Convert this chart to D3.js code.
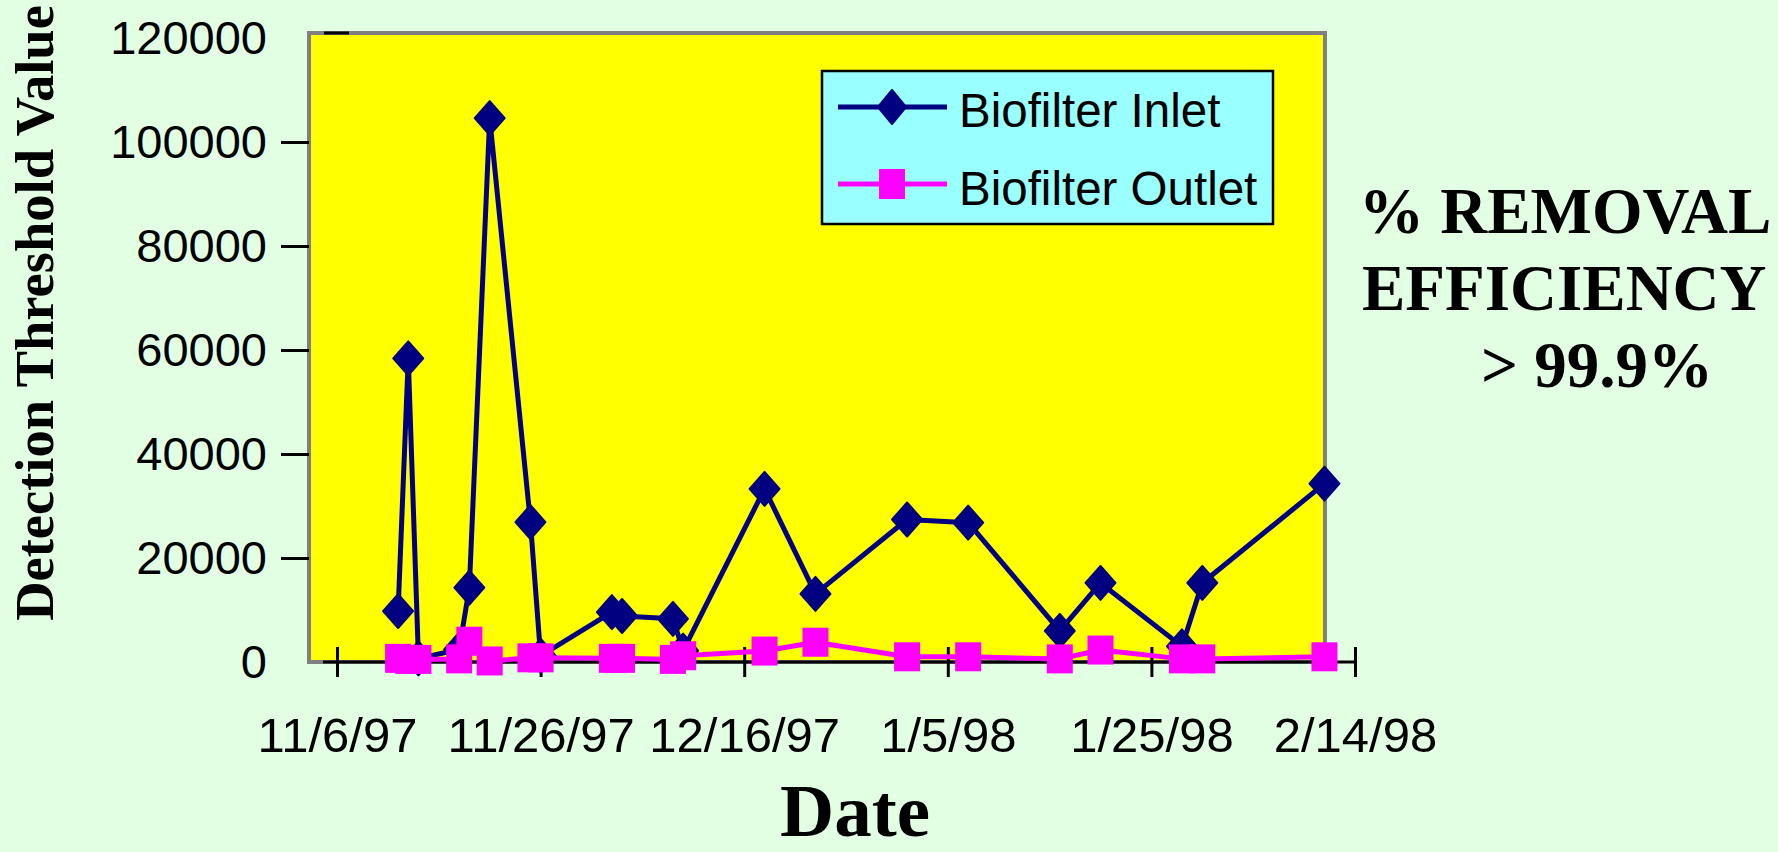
<!DOCTYPE html>
<html>
<head>
<meta charset="utf-8">
<script src="https://cdn.jsdelivr.net/npm/d3@7"></script>
<style>
  html, body { margin: 0; padding: 0; background: #e3ffe3; }
  svg { display: block; }
</style>
</head>
<body>
<div id="content"></div>
<script>
var dates = ['1997-11-12','1997-11-13','1997-11-14','1997-11-18','1997-11-19','1997-11-21',
	'1997-11-25','1997-11-26','1997-12-03','1997-12-04','1997-12-09','1997-12-10',
	'1997-12-18','1997-12-23','1998-01-01','1998-01-07','1998-01-16','1998-01-20',
	'1998-01-28','1998-01-30','1998-02-11'];
var inlet = [9800, 58400, 700, 2400, 14300, 104600, 26900, 1200, 9600, 8850, 8300, 2200,
	33300, 13100, 27400, 26800, 6000, 15200, 3000, 15200, 34300];
var outlet = [700, 500, 500, 600, 4000, 200, 800, 800, 700, 700, 500, 1200,
	2100, 3800, 1000, 1000, 600, 2300, 600, 600, 1000];
var yTicks = [0, 20000, 40000, 60000, 80000, 100000, 120000];
var xTicks = ['1997-11-06','1997-11-26','1997-12-16','1998-01-05','1998-01-25','1998-02-14'];
var seriesNames = ['Biofilter Inlet', 'Biofilter Outlet'];
var removalText = ['% REMOVAL', 'EFFICIENCY', '> 99.9%'];

var parse = d3.utcParse('%Y-%m-%d');
var fmt = d3.utcFormat('%-m/%-d/%y');

var width = 1778, height = 852;
var plot = { left: 309, right: 1325, top: 33, bottom: 662 };

var svg = d3.select('#content').append('svg')
	.attr('width', width).attr('height', height);

svg.append('rect').attr('width', width).attr('height', height).attr('fill', '#e3ffe3');

var x = d3.scaleUtc()
	.domain([parse(xTicks[0]), parse(xTicks[xTicks.length-1])])
	.range([337, 1355]);
var y = d3.scaleLinear().domain([0, 120000]).range([662, 38]);

// plot area
svg.append('rect')
	.attr('x', plot.left).attr('y', plot.top)
	.attr('width', plot.right-plot.left).attr('height', plot.bottom-plot.top)
	.attr('fill', '#ffff00').attr('stroke', '#808080').attr('stroke-width', 4);

// y axis
var yAxis = svg.append('g')
	.attr('transform', 'translate(' + plot.left + ',0)')
	.call(d3.axisLeft(y).tickValues(yTicks).tickSize(28).tickPadding(14).tickFormat(d3.format('d')));
yAxis.select('.domain').remove();
yAxis.selectAll('.tick line').attr('stroke', '#000').attr('stroke-width', 3)
	.attr('display', function(d){ return (d == 0 || d == 120000) ? 'none' : null; });
yAxis.selectAll('.tick text')
	.attr('font-family', '"Liberation Sans", Arial, sans-serif')
	.attr('font-size', 47).attr('fill', '#000');
// odd top tick drawn inside the frame
svg.append('line')
	.attr('x1', plot.left+15).attr('x2', plot.left+40)
	.attr('y1', plot.top).attr('y2', plot.top)
	.attr('stroke', '#000').attr('stroke-width', 3);

// x axis
svg.append('line')
	.attr('x1', plot.left+14).attr('x2', x(parse(xTicks[xTicks.length-1])))
	.attr('y1', plot.bottom).attr('y2', plot.bottom)
	.attr('stroke', '#000').attr('stroke-width', 3);
var xAxis = svg.append('g')
	.attr('transform', 'translate(0,' + plot.bottom + ')')
	.call(d3.axisBottom(x).tickValues(xTicks.map(parse)).tickSize(15).tickFormat(fmt));
xAxis.select('.domain').remove();
xAxis.selectAll('.tick line').attr('y1', -15).attr('stroke', '#000').attr('stroke-width', 3);
xAxis.selectAll('.tick text')
	.attr('y', 90).attr('dy', 0)
	.attr('font-family', '"Liberation Sans", Arial, sans-serif')
	.attr('font-size', 49).attr('fill', '#000');

// series
var line = d3.line()
	.x(function(d){ return x(d.date); })
	.y(function(d){ return y(d.value); });

function toPoints(values){
	var pts = [];
	for(var i=0; i<dates.length; i++){
		pts.push({ date: parse(dates[i]), value: values[i] });
	}
	return pts;
}

var diamond = 'M0,-17L15,0L0,17L-15,0Z';

function drawSeries(values, color, shape){
	var pts = toPoints(values);
	svg.append('path').datum(pts)
		.attr('d', line).attr('fill', 'none')
		.attr('stroke', color).attr('stroke-width', 5).attr('stroke-linejoin', 'round');
	var g = svg.append('g');
	if(shape == 'diamond'){
		g.selectAll('path').data(pts).enter().append('path')
			.attr('d', diamond)
			.attr('transform', function(d){ return 'translate(' + x(d.date) + ',' + y(d.value) + ')'; })
			.attr('fill', color).attr('stroke', color).attr('stroke-width', 2).attr('stroke-linejoin', 'round');
	}else{
		g.selectAll('rect').data(pts).enter().append('rect')
			.attr('x', function(d){ return x(d.date) - 13; })
			.attr('y', function(d){ return y(d.value) - 14.5; })
			.attr('width', 26).attr('height', 29)
			.attr('fill', color);
	}
}

drawSeries(inlet, '#000080', 'diamond');
drawSeries(outlet, '#ff00ff', 'square');

// legend
var legend = svg.append('g');
legend.append('rect')
	.attr('x', 822).attr('y', 71).attr('width', 451).attr('height', 153)
	.attr('fill', '#99ffff').attr('stroke', '#000').attr('stroke-width', 2.5);
var rows = [
	{ name: seriesNames[0], color: '#000080', shape: 'diamond', ly: 107, ty: 127 },
	{ name: seriesNames[1], color: '#ff00ff', shape: 'square', ly: 184, ty: 205 }
];
rows.forEach(function(r){
	legend.append('line')
		.attr('x1', 838).attr('x2', 947).attr('y1', r.ly).attr('y2', r.ly)
		.attr('stroke', r.color).attr('stroke-width', 5);
	if(r.shape == 'diamond'){
		legend.append('path').attr('d', 'M0,-17L14,0L0,17L-14,0Z')
			.attr('transform', 'translate(892,' + r.ly + ')')
			.attr('fill', r.color).attr('stroke', r.color).attr('stroke-width', 2).attr('stroke-linejoin', 'round');
	}else{
		legend.append('rect')
			.attr('x', 892-13).attr('y', r.ly-15).attr('width', 26).attr('height', 30)
			.attr('fill', r.color);
	}
	legend.append('text')
		.attr('x', 959).attr('y', r.ty)
		.attr('font-family', '"Liberation Sans", Arial, sans-serif')
		.attr('font-size', 47.5).attr('fill', '#000')
		.text(r.name);
});

// titles
svg.append('text')
	.attr('x', 855).attr('y', 836).attr('text-anchor', 'middle')
	.attr('font-family', '"Liberation Serif", "Times New Roman", serif')
	.attr('font-weight', 'bold').attr('font-size', 75)
	.text('Date');

svg.append('text')
	.attr('transform', 'translate(53,313) rotate(-90)')
	.attr('text-anchor', 'middle')
	.attr('font-family', '"Liberation Serif", "Times New Roman", serif')
	.attr('font-weight', 'bold').attr('font-size', 54.5)
	.text('Detection Threshold Value');

var rx = [1359, 1362, 1481];
var ry = [233, 310, 387];
for(var i=0; i<removalText.length; i++){
	svg.append('text')
		.attr('x', rx[i]).attr('y', ry[i])
		.attr('font-family', '"Liberation Serif", "Times New Roman", serif')
		.attr('font-weight', 'bold').attr('font-size', 65)
		.text(removalText[i]);
}
</script>
</body>
</html>
